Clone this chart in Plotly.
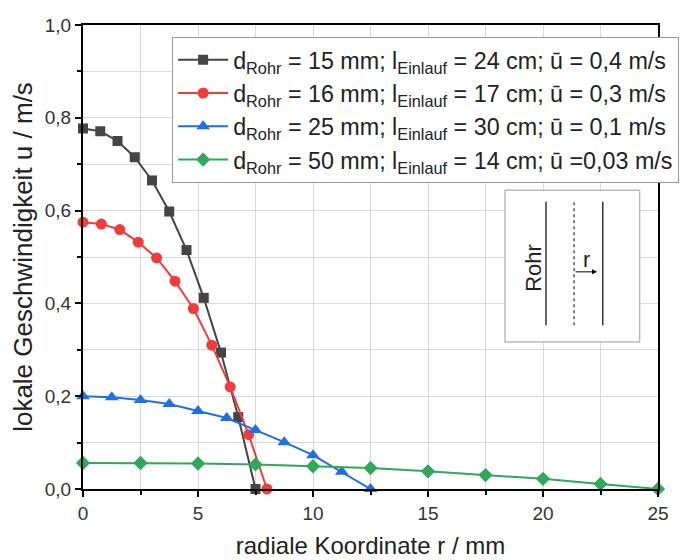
import plotly.graph_objects as go

# ---- data ----
r_15 = [0, 0.75, 1.5, 2.25, 3.0, 3.75, 4.5, 5.25, 6.0, 6.75, 7.5]
u_15 = [0.777, 0.771, 0.750, 0.715, 0.665, 0.598, 0.515, 0.412, 0.294, 0.155, 0.0]

r_16 = [0, 0.8, 1.6, 2.4, 3.2, 4.0, 4.8, 5.6, 6.4, 7.2, 8.0]
u_16 = [0.575, 0.571, 0.559, 0.532, 0.498, 0.448, 0.389, 0.310, 0.220, 0.117, 0.0]

r_25 = [0, 1.25, 2.5, 3.75, 5.0, 6.25, 7.5, 8.75, 10.0, 11.25, 12.5]
u_25 = [0.200, 0.198, 0.192, 0.183, 0.168, 0.153, 0.127, 0.101, 0.073, 0.037, 0.0]

r_50 = [0, 2.5, 5.0, 7.5, 10.0, 12.5, 15.0, 17.5, 20.0, 22.5, 25.0]
u_50 = [0.056, 0.056, 0.055, 0.053, 0.049, 0.045, 0.038, 0.030, 0.022, 0.011, 0.0]

names = [
    "d<sub>Rohr</sub> = 15 mm; l<sub>Einlauf</sub> = 24 cm; ū = 0,4 m/s",
    "d<sub>Rohr</sub> = 16 mm; l<sub>Einlauf</sub> = 17 cm; ū = 0,3 m/s",
    "d<sub>Rohr</sub> = 25 mm; l<sub>Einlauf</sub> = 30 cm; ū = 0,1 m/s",
    "d<sub>Rohr</sub> = 50 mm; l<sub>Einlauf</sub> = 14 cm; ū =0,03 m/s",
]
colors = ["#454545", "#f23c3c", "#1f6fe5", "#2fa85c"]
symbols = ["square", "circle", "triangle-up", "diamond"]
sizes = [10, 11, 12, 11]

x_title = "radiale Koordinate r / mm"
y_title = "lokale Geschwindigkeit u / m/s"

FONT = "Liberation Sans, Arial, sans-serif"

fig = go.Figure()
for xs, ys, nm, c, s, sz in zip([r_15, r_16, r_25, r_50], [u_15, u_16, u_25, u_50],
                                names, colors, symbols, sizes):
    fig.add_trace(go.Scatter(
        x=xs, y=ys, name=nm, mode="lines+markers",
        line=dict(color=c, width=2),
        marker=dict(symbol=s, size=sz, color=c),
        cliponaxis=False,
    ))

grid_c = "#d9d9d9"
fig.update_layout(
    width=683, height=552,
    margin=dict(l=75, r=33, t=17, b=71, autoexpand=False),
    paper_bgcolor="white", plot_bgcolor="white",
    separators=",.",
    font=dict(family=FONT, size=19, color="#333333"),
    showlegend=True,
    legend=dict(
        x=0.155, y=0.974, xanchor="left", yanchor="top",
        bgcolor="white", bordercolor="#999999", borderwidth=1,
        font=dict(family=FONT, size=23.3, color="#222222"),
        tracegroupgap=0, itemwidth=50,
    ),
    xaxis=dict(
        range=[0, 25], dtick=5, tick0=0, automargin=False,
        ticks="outside", ticklen=6, tickwidth=1.5, tickcolor="black",
        showline=True, linecolor="black", linewidth=2, mirror=True,
        showgrid=True, gridcolor=grid_c, gridwidth=1,
        minor=dict(dtick=2.5, ticks="outside", ticklen=4, tickcolor="black",
                   showgrid=True, gridcolor=grid_c, gridwidth=1),
        zeroline=False,
        title=dict(text=x_title, font=dict(size=24, color="#222222"), standoff=14),
        tickfont=dict(size=19),
    ),
    yaxis=dict(
        range=[0, 1.0], dtick=0.2, tick0=0, tickformat=".1f", automargin=False,
        ticks="outside", ticklen=6, tickwidth=1.5, tickcolor="black",
        showline=True, linecolor="black", linewidth=2, mirror=True,
        showgrid=True, gridcolor=grid_c, gridwidth=1,
        minor=dict(dtick=0.1, ticks="outside", ticklen=4, tickcolor="black",
                   showgrid=True, gridcolor=grid_c, gridwidth=1),
        zeroline=False,
        title=dict(text=y_title, font=dict(size=26, color="#222222"), standoff=10),
        tickfont=dict(size=19),
    ),
    xaxis2=dict(
        overlaying="x", side="top", anchor="y", range=[0, 25], dtick=5,
        ticks="inside", ticklen=6, tickcolor="black", showticklabels=False,
        showgrid=False, zeroline=False, showline=False,
        minor=dict(dtick=2.5, ticks="inside", ticklen=4, tickcolor="black", showgrid=False),
    ),
    yaxis2=dict(
        overlaying="y", side="right", anchor="x", range=[0, 1.0], dtick=0.2,
        ticks="inside", ticklen=6, tickcolor="black", showticklabels=False,
        showgrid=False, zeroline=False, showline=False,
        minor=dict(dtick=0.1, ticks="inside", ticklen=4, tickcolor="black", showgrid=False),
    ),
)

# ---- inset sketch (pipe) ----
fig.add_shape(type="rect", xref="x", yref="y", x0=18.35, x1=24.2, y0=0.317, y1=0.644,
              line=dict(color="#bbbbbb", width=1.5), fillcolor="white", layer="above")
fig.add_shape(type="line", xref="x", yref="y", x0=20.13, x1=20.13, y0=0.353, y1=0.619,
              line=dict(color="black", width=1.2), layer="above")
fig.add_shape(type="line", xref="x", yref="y", x0=22.6, x1=22.6, y0=0.353, y1=0.619,
              line=dict(color="black", width=1.2), layer="above")
fig.add_shape(type="line", xref="x", yref="y", x0=21.35, x1=21.35, y0=0.353, y1=0.619,
              line=dict(color="black", width=1, dash="dot"), layer="above")
fig.add_annotation(xref="x", yref="y", x=22.35, y=0.468, ax=21.35, ay=0.468,
                   axref="x", ayref="y", text="", showarrow=True,
                   arrowhead=2, arrowsize=1, arrowwidth=1, arrowcolor="black")
fig.add_annotation(xref="x", yref="y", x=21.87, y=0.494, text="r", showarrow=False,
                   font=dict(family=FONT, size=22, color="#222222"))
fig.add_annotation(xref="x", yref="y", x=19.55, y=0.476, text="Rohr", showarrow=False,
                   textangle=-90, font=dict(family=FONT, size=22, color="#222222"))

fig.write_html("out.html")
